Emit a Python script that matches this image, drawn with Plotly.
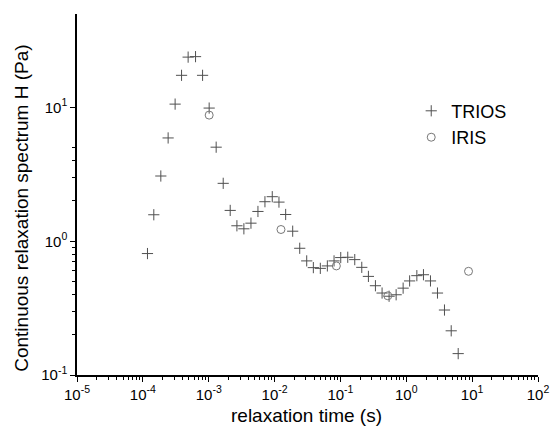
import plotly.graph_objects as go

# TRIOS data (relaxation time s, H Pa)
trios_t = [1.175e-4, 1.466e-4, 1.874e-4, 2.42e-4, 3.09e-4, 3.87e-4, 4.87e-4, 6.31e-4, 8.07e-4,
           1.016e-3, 1.298e-3, 1.66e-3, 2.12e-3, 2.68e-3, 3.42e-3, 4.38e-3, 5.59e-3, 7.14e-3,
           9.22e-3, 1.166e-2, 1.474e-2, 1.884e-2, 2.41e-2, 3.076e-2, 3.88e-2, 4.95e-2, 6.33e-2,
           8.0e-2, 0.1011, 0.1292, 0.165, 0.211, 0.266, 0.34, 0.429, 0.548, 0.701, 0.896,
           1.124, 1.447, 1.823, 2.33, 2.976, 3.80, 4.81, 6.14]
trios_h = [0.809, 1.578, 3.074, 5.92, 10.6, 17.4, 23.8, 24.0, 17.4,
           9.9, 5.05, 2.71, 1.70, 1.305, 1.239, 1.365, 1.67, 1.975,
           2.153, 1.962, 1.585, 1.189, 0.886, 0.713, 0.635, 0.627, 0.654,
           0.713, 0.755, 0.759, 0.729, 0.638, 0.546, 0.465, 0.410, 0.388, 0.398, 0.446,
           0.505, 0.553, 0.562, 0.505, 0.410, 0.306, 0.214, 0.1445]

# IRIS data
iris_t = [1.016e-3, 1.251e-2, 8.67e-2, 0.524, 8.81]
iris_h = [8.77, 1.224, 0.654, 0.391, 0.596]

x_exponents = [-5, -4, -3, -2, -1, 0, 1, 2]
y_exponents = [-1, 0, 1]

x_title = "relaxation time (s)"
y_title = "Continuous relaxation spectrum H (Pa)"

font_family = "Liberation Sans, Arial, sans-serif"


def decade_ticks(exps):
    vals = [10.0 ** e for e in exps]
    texts = ["10<sup>%d</sup>" % e for e in exps]
    return vals, texts


def minor_ticks(lo, hi):
    out = []
    for e in range(lo, hi):
        for m in range(2, 10):
            out.append(m * 10.0 ** e)
    return out


xv, xt = decade_ticks(x_exponents)
yv, yt = decade_ticks(y_exponents)

fig = go.Figure()
fig.add_trace(go.Scatter(
    x=trios_t, y=trios_h, mode="markers", name="TRIOS",
    marker=dict(symbol="cross-thin", size=8, line=dict(width=1, color="#505050"), color="#505050"),
))
fig.add_trace(go.Scatter(
    x=iris_t, y=iris_h, mode="markers", name="IRIS",
    marker=dict(symbol="circle-open", size=8, line=dict(width=1, color="#777777"), color="#777777"),
))

axis_common = dict(
    type="log", automargin=False,
    showline=True, linecolor="black", linewidth=1.5,
    ticks="outside", ticklen=5, tickwidth=1, tickcolor="black",
    showgrid=False, zeroline=False, mirror=False,
    tickfont=dict(family=font_family, size=15, color="black"),
)

fig.update_layout(
    width=552, height=429,
    margin=dict(l=77, r=14, t=14, b=54),
    paper_bgcolor="white", plot_bgcolor="white",
    font=dict(family=font_family, color="black"),
    showlegend=True,
    legend=dict(x=0.725, y=0.695, xanchor="left", yanchor="middle",
                font=dict(family=font_family, size=18, color="black"),
                bgcolor="rgba(0,0,0,0)", tracegroupgap=0),
    annotations=[
        dict(text=x_title, xref="paper", yref="paper", x=0.497, y=-0.111,
             xanchor="center", yanchor="middle", showarrow=False,
             font=dict(family=font_family, size=19, color="black")),
        dict(text=y_title, xref="paper", yref="paper", x=-0.1195, y=0.463,
             xanchor="center", yanchor="middle", showarrow=False, textangle=-90,
             font=dict(family=font_family, size=19, color="black")),
    ],
)
fig.update_xaxes(**axis_common, range=[-5, 2], tickmode="array", tickvals=xv, ticktext=xt,
                 minor=dict(ticks="outside", ticklen=3, tickwidth=1, tickcolor="black",
                            tickvals=minor_ticks(-5, 2), showgrid=False))
fig.update_yaxes(**axis_common, range=[-1, 1.69897], tickmode="array", tickvals=yv, ticktext=yt,
                 minor=dict(ticks="outside", ticklen=3, tickwidth=1, tickcolor="black",
                            tickvals=minor_ticks(-1, 2)[:12], showgrid=False))

fig.write_html("out.html", config={"displayModeBar": False},
               post_script="document.body.style.margin='0';")
